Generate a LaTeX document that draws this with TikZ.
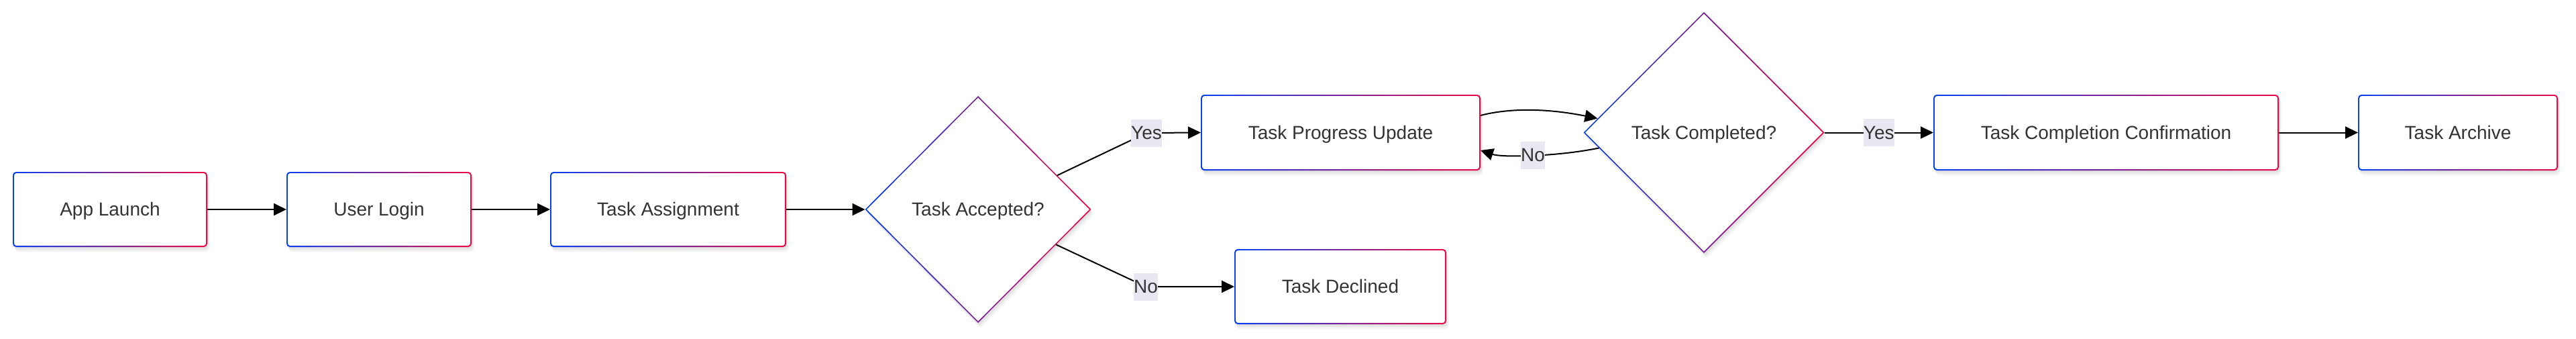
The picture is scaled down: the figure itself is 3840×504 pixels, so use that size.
\documentclass[tikz,border=0pt]{standalone}
\usepackage{fontspec}
\setmainfont{Liberation Sans}
\usetikzlibrary{shapes.geometric,arrows.meta,calc,shadows}
\definecolor{cb}{RGB}{8,64,240}
\definecolor{cr}{RGB}{235,10,70}
\definecolor{txt}{RGB}{51,51,51}
\definecolor{lblbg}{RGB}{232,232,242}
\newcommand{\nodefont}{\fontsize{28pt}{34pt}\selectfont}
\tikzset{
  softshadow/.style={
    drop shadow={opacity=0.035, fill=black, shadow xshift=1pt, shadow yshift=-2pt},
    drop shadow={opacity=0.035, fill=black, shadow xshift=2pt, shadow yshift=-4pt},
    drop shadow={opacity=0.03, fill=black, shadow xshift=3pt, shadow yshift=-6pt},
    drop shadow={opacity=0.025, fill=black, shadow xshift=4pt, shadow yshift=-8pt}},
  ntext/.style={font=\nodefont, text=txt, text height=25.3pt, text depth=5.9pt},
  gbox/.style={rectangle, rounded corners=5pt, minimum height=112pt, inner sep=0pt,
    outer sep=0pt, ntext, softshadow,
    path picture={
      \shade[left color=cb, right color=cr]
        (path picture bounding box.south west) rectangle (path picture bounding box.north east);
      \fill[white, rounded corners=3pt]
        ([xshift=2.2pt,yshift=2.2pt]path picture bounding box.south west) rectangle
        ([xshift=-2.2pt,yshift=-2.2pt]path picture bounding box.north east);
    }},
  gdia/.style={diamond, aspect=1, inner sep=0pt, outer sep=0pt, ntext,
    softshadow,
    path picture={
      \shade[left color=cb, right color=cr]
        (path picture bounding box.south west) rectangle (path picture bounding box.north east);
      \fill[white]
        ([yshift=-2.6pt]path picture bounding box.north) --
        ([xshift=-2.6pt]path picture bounding box.east) --
        ([yshift=2.6pt]path picture bounding box.south) --
        ([xshift=2.6pt]path picture bounding box.west) -- cycle;
    }},
  edge/.style={draw=black, line width=2pt, -{Triangle[length=19pt,width=18pt]}},
  lbl/.style={fill=lblbg, inner xsep=0pt, inner ysep=0pt, minimum height=41pt, ntext}
}
\begin{document}
\begin{tikzpicture}[x=1pt, y=-1pt]
\useasboundingbox (0,0) rectangle (3840,504);
% nodes
\node[gbox, minimum width=290pt] (al) at (164,312) {App Launch};
\node[gbox, minimum width=276pt] (ul) at (565,312) {User Login};
\node[gbox, minimum width=352pt] (tas) at (996,312) {Task Assignment};
\node[gdia, minimum width=337pt, minimum height=338pt] (ta) at (1458,312) {Task Accepted?};
\node[gbox, minimum width=417pt, minimum height=113pt] (tpu) at (1998.5,197.5) {Task Progress Update};
\node[gbox, minimum width=316pt] (td) at (1998,427) {Task Declined};
\node[gdia, minimum width=359pt, minimum height=359pt] (tc) at (2540,197.5) {Task Completed?};
\node[gbox, minimum width=515pt, minimum height=113pt] (tcc) at (3139.5,197.5) {Task Completion Confirmation};
\node[gbox, minimum width=298pt, minimum height=113pt] (tar) at (3664,197.5) {Task Archive};
% connectors
\draw[edge] (al) -- (ul);
\draw[edge] (ul) -- (tas);
\draw[edge] (tas) -- (ta);
\draw[edge] ($(ta.north)!0.7!(ta.east)$) -- (1709,198) node[lbl]{Yes} -- (tpu.west);
\draw[edge] ($(ta.east)!0.31!(ta.south)$) -- (1708,427) node[lbl]{No} -- (td.west);
\draw[edge] ([yshift=25.5pt]tpu.east) .. controls (2245,162) and (2300,160) .. ($(tc.west)!0.117!(tc.north)$);
\draw[edge] ($(tc.west)!0.128!(tc.south)$) .. controls (2323,233) and (2240,235) .. ([yshift=-26.5pt]tpu.east) node[lbl, pos=0.5]{No};
\draw[edge] (tc) -- node[lbl]{Yes} (tcc);
\draw[edge] (tcc) -- (tar);
\end{tikzpicture}
\end{document}
